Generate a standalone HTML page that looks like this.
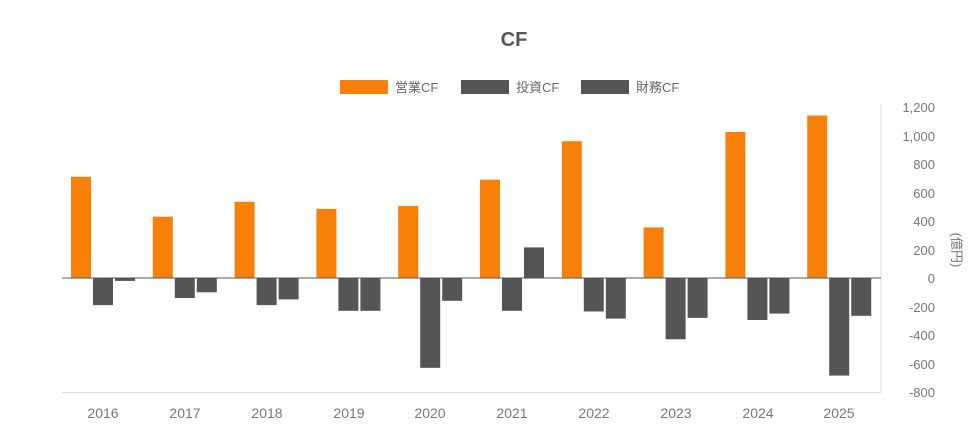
<!DOCTYPE html>
<html><head><meta charset="utf-8"><style>
html,body{margin:0;padding:0;background:#fff;}
svg{display:block;font-family:"Liberation Sans","Noto Sans CJK JP",sans-serif;}
</style></head><body>
<svg width="976" height="436" viewBox="0 0 976 436">
<text x="514" y="46" text-anchor="middle" font-size="20" font-weight="bold" fill="#555">CF</text>
<rect x="340" y="80" width="48" height="14" fill="#F98008"/>
<text x="395" y="92" font-size="13" fill="#666">営業CF</text>
<rect x="461" y="80" width="48" height="14" fill="#555"/>
<text x="516" y="92" font-size="13" fill="#666">投資CF</text>
<rect x="581" y="80" width="48" height="14" fill="#555"/>
<text x="636" y="92" font-size="13" fill="#666">財務CF</text>
<line x1="881" y1="104" x2="881" y2="392" stroke="#ddd"/>
<line x1="62" y1="392.5" x2="881" y2="392.5" stroke="#ddd"/>
<g font-size="13" fill="#777" text-anchor="end">
<text x="935" y="112">1,200</text><text x="935" y="141">1,000</text>
<text x="935" y="169">800</text><text x="935" y="198">600</text>
<text x="935" y="226">400</text><text x="935" y="255">200</text>
<text x="935" y="283">0</text><text x="935" y="312">-200</text>
<text x="935" y="340">-400</text><text x="935" y="369">-600</text>
<text x="935" y="397">-800</text>
</g>
<text transform="translate(952,250) rotate(90)" font-size="13" fill="#777" text-anchor="middle">(億円)</text>
<g fill="#F98008">
<rect x="71" y="176.8" width="20" height="101.2"/>
<rect x="152.8" y="216.7" width="20" height="61.3"/>
<rect x="234.6" y="201.8" width="20" height="76.2"/>
<rect x="316.4" y="208.9" width="20" height="69.1"/>
<rect x="398.2" y="206" width="20" height="72"/>
<rect x="480" y="179.7" width="20" height="98.3"/>
<rect x="561.8" y="141.2" width="20" height="136.8"/>
<rect x="643.6" y="227.4" width="20" height="50.6"/>
<rect x="725.4" y="132" width="20" height="146"/>
<rect x="807.2" y="115.5" width="20" height="162.5"/>
</g>
<g fill="#555">
<rect x="93" y="278" width="20" height="27.1"/><rect x="115" y="278" width="20" height="2.9"/>
<rect x="174.8" y="278" width="20" height="20"/><rect x="196.8" y="278" width="20" height="14.3"/>
<rect x="256.6" y="278" width="20" height="27.1"/><rect x="278.6" y="278" width="20" height="21.4"/>
<rect x="338.4" y="278" width="20" height="32.8"/><rect x="360.4" y="278" width="20" height="32.8"/>
<rect x="420.2" y="278" width="20" height="89.8"/><rect x="442.2" y="278" width="20" height="22.8"/>
<rect x="502" y="278" width="20" height="32.8"/><rect x="524" y="247.4" width="20" height="30.6"/>
<rect x="583.8" y="278" width="20" height="33.5"/><rect x="605.8" y="278" width="20" height="40.6"/>
<rect x="665.6" y="278" width="20" height="61.3"/><rect x="687.6" y="278" width="20" height="39.9"/>
<rect x="747.4" y="278" width="20" height="42"/><rect x="769.4" y="278" width="20" height="35.6"/>
<rect x="829.2" y="278" width="20" height="97.6"/><rect x="851.2" y="278" width="20" height="37.8"/>
</g>
<line x1="62" y1="278" x2="881" y2="278" stroke="#555" stroke-width="1"/>
<g font-size="14" fill="#777" text-anchor="middle">
<text x="103" y="418">2016</text><text x="185" y="418">2017</text>
<text x="267" y="418">2018</text><text x="349" y="418">2019</text>
<text x="430" y="418">2020</text><text x="512" y="418">2021</text>
<text x="594" y="418">2022</text><text x="676" y="418">2023</text>
<text x="758" y="418">2024</text><text x="839" y="418">2025</text>
</g>
</svg>
</body></html>
